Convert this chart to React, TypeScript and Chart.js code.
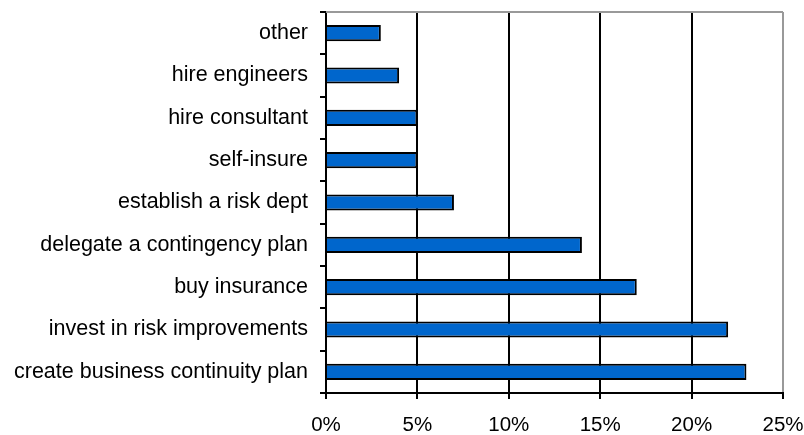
import React, { useEffect, useRef } from "react";
import { Chart, registerables } from "chart.js";

Chart.register(...registerables);

const categories = [
  "other",
  "hire engineers",
  "hire consultant",
  "self-insure",
  "establish a risk dept",
  "delegate a contingency plan",
  "buy insurance",
  "invest in risk improvements",
  "create business continuity plan",
];
const values = [3, 4, 5, 5, 7, 14, 17, 22, 23];
const xTicks = [0, 5, 10, 15, 20, 25];

const FONT = "'Liberation Sans', Arial, sans-serif";

export default function App() {
  const ref = useRef<HTMLCanvasElement>(null);
  useEffect(() => {
    document.body.style.margin = "0";
    const topBorder = {
      id: "topBorder",
      afterDraw(chart: any) {
        const { ctx, chartArea } = chart;
        ctx.save();
        ctx.strokeStyle = "#999999";
        ctx.lineWidth = 2;
        ctx.beginPath();
        ctx.moveTo(chartArea.left, chartArea.top);
        ctx.lineTo(chartArea.right, chartArea.top);
        ctx.stroke();
        ctx.restore();
      },
    };
    const chart = new Chart(ref.current!, {
      type: "bar",
      data: {
        labels: categories,
        datasets: [
          {
            data: values,
            backgroundColor: "#0066CC",
            borderColor: "#000000",
            borderWidth: 2,
            categoryPercentage: 1,
            barPercentage: 0.38,
          },
        ],
      },
      options: {
        indexAxis: "y",
        animation: false,
        responsive: false,
        devicePixelRatio: 1,
        layout: { padding: { top: 12, right: 21, left: 0, bottom: 0 } },
        plugins: { legend: { display: false }, tooltip: { enabled: false } },
        scales: {
          x: {
            type: "linear",
            min: 0,
            max: 25,
            afterBuildTicks: (scale: any) => {
              scale.ticks = xTicks.map((v) => ({ value: v }));
            },
            afterFit: (scale: any) => {
              scale.height = 42;
              scale.paddingLeft = 0;
              scale.paddingRight = 0;
            },
            ticks: {
              callback: (v: any) => v + "%",
              color: "#000",
              font: { family: FONT, size: 20.5 },
              padding: 14,
            },
            grid: {
              color: (ctx: any) => (ctx.tick && ctx.tick.value === 25 ? "#999999" : "#000000"),
              lineWidth: 2,
              tickColor: "#000000",
              tickLength: 6,
            },
            border: { color: "#000000", width: 2 },
          },
          y: {
            afterFit: (scale: any) => {
              scale.width = 326;
              scale.paddingTop = 0;
              scale.paddingBottom = 0;
            },
            ticks: {
              color: "#000",
              font: { family: FONT, size: 21.5 },
              padding: 12,
            },
            grid: {
              offset: true,
              drawOnChartArea: false,
              tickColor: "#000000",
              tickLength: 6,
              lineWidth: 2,
            },
            border: { color: "#000000", width: 2 },
          },
        },
      },
      plugins: [topBorder],
    });
    return () => chart.destroy();
  }, []);
  return <canvas ref={ref} width={804} height={435} style={{ display: "block" }} />;
}
